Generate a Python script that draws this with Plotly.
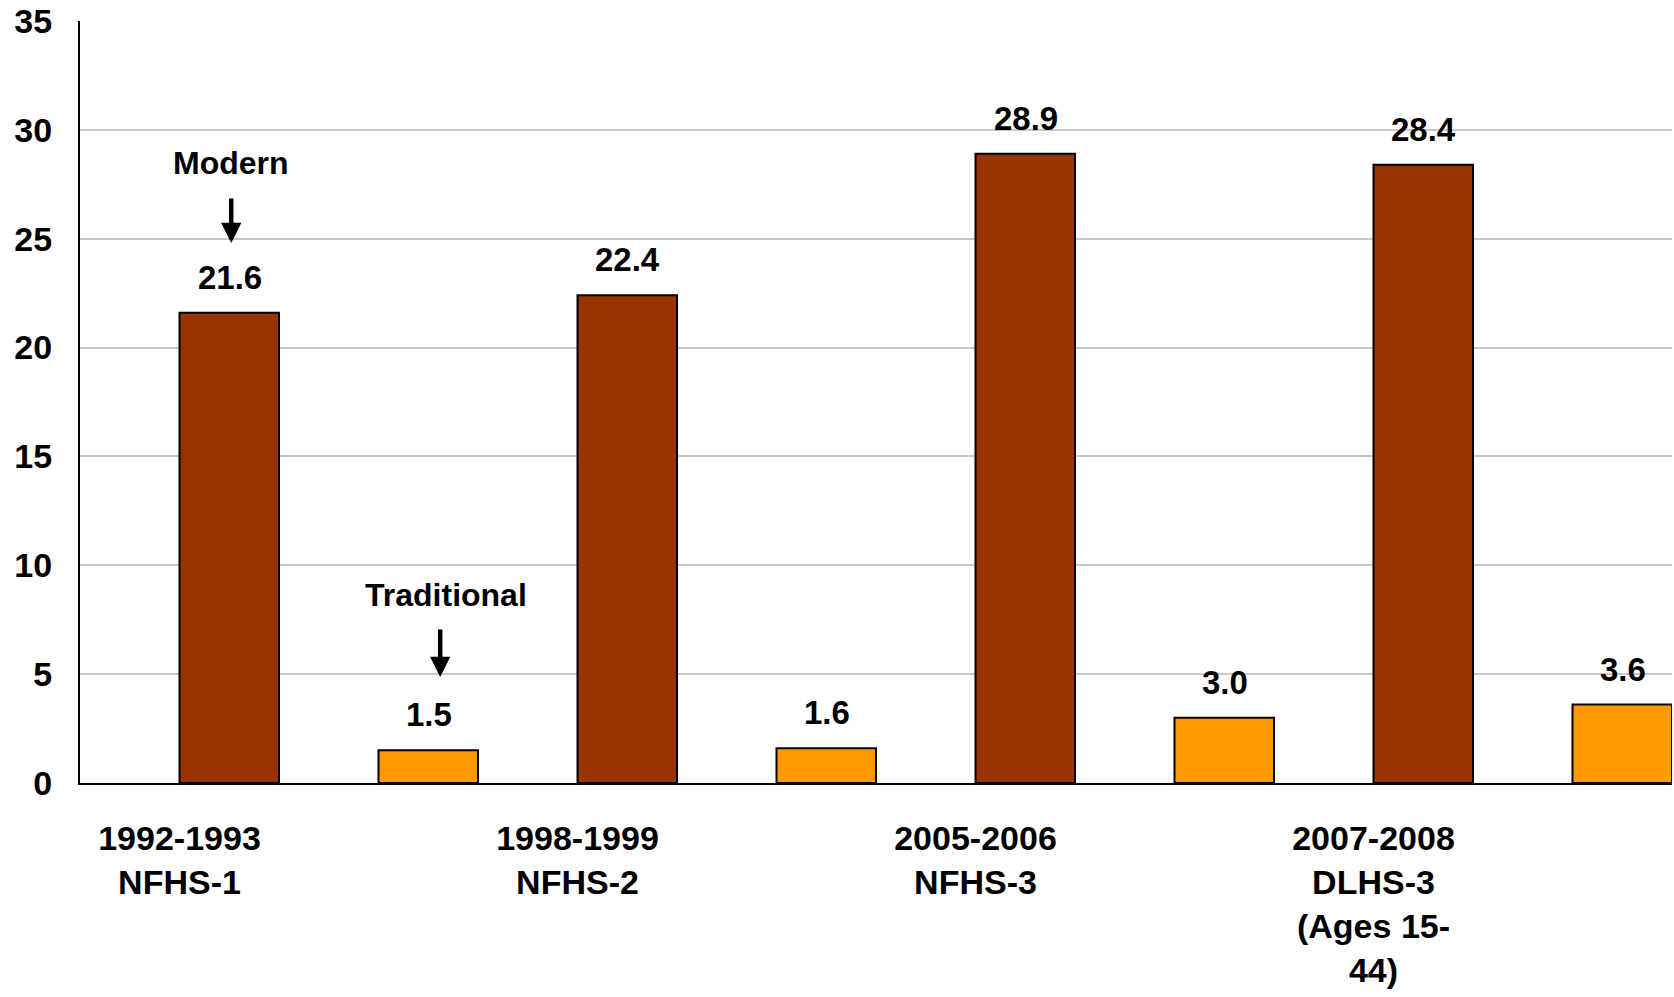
import plotly.graph_objects as go

surveys = ["1992-1993<br>NFHS-1", "1998-1999<br>NFHS-2", "2005-2006<br>NFHS-3",
           "2007-2008<br>DLHS-3<br>(Ages 15-<br>44)"]
modern = [21.6, 22.4, 28.9, 28.4]
traditional = [1.5, 1.6, 3.0, 3.6]
modern_slots = [f"s{i}_modern" for i in range(len(surveys))]
trad_slots = [f"s{i}_traditional" for i in range(len(surveys))]
slots = [s for pair in zip(modern_slots, trad_slots) for s in pair]

MODERN_COLOR = "#993300"
TRAD_COLOR = "#FF9900"
FONT = "Liberation Sans, Arial, sans-serif"

fig = go.Figure()
fig.add_trace(go.Bar(x=modern_slots, y=modern, name="Modern", offset=0, width=0.5,
                     marker=dict(color=MODERN_COLOR, line=dict(color="black", width=2)),
                     hoverinfo="y"))
fig.add_trace(go.Bar(x=trad_slots, y=traditional, name="Traditional", offset=0, width=0.5,
                     marker=dict(color=TRAD_COLOR, line=dict(color="black", width=2)),
                     hoverinfo="y"))

annotations = []
for xs, ys in ((modern_slots, modern), (trad_slots, traditional)):
    for x, y in zip(xs, ys):
        annotations.append(dict(x=x, y=y, xshift=50, yshift=15, text=f"{y:.1f}",
                                showarrow=False, yanchor="bottom",
                                font=dict(family=FONT, size=33, color="black", weight="bold")))

# "Modern" label with arrow
annotations.append(dict(x=0.26, y=28.5, xref="x", yref="y", text="Modern", showarrow=False,
                        font=dict(family=FONT, size=32, color="black", weight="bold")))
annotations.append(dict(x=0.26, y=24.8, ax=0, ay=-46, text="", showarrow=True,
                        arrowhead=2, arrowsize=0.9, arrowwidth=4.5, arrowcolor="black"))
# "Traditional" label with arrow
annotations.append(dict(x=1.34, y=8.64, xref="x", yref="y", text="Traditional", showarrow=False,
                        font=dict(family=FONT, size=32, color="black", weight="bold")))
annotations.append(dict(x=1.31, y=4.87, ax=0, ay=-49, text="", showarrow=True,
                        arrowhead=2, arrowsize=0.9, arrowwidth=4.5, arrowcolor="black"))

fig.update_layout(
    width=1674, height=997,
    margin=dict(l=80, r=2, t=21, b=214),
    plot_bgcolor="white", paper_bgcolor="white",
    barmode="overlay", showlegend=False,
    annotations=annotations,
    font=dict(family=FONT, size=34, color="black", weight="bold"),
)
fig.update_xaxes(type="category", categoryorder="array", categoryarray=slots,
                 tickmode="array", tickvals=modern_slots, ticktext=surveys,
                 range=[-0.5, len(slots) - 0.5],
                 showline=True, linecolor="black", linewidth=2, showgrid=False,
                 ticks="", ticklabelstandoff=24,
                 tickfont=dict(family=FONT, size=34, color="black", weight="bold"))
fig.update_yaxes(range=[0, 35], dtick=5, showline=True, linecolor="black", linewidth=2,
                 showgrid=True, gridcolor="#c8c8c8", gridwidth=2, zeroline=False,
                 ticks="", ticklabelstandoff=19,
                 tickfont=dict(family=FONT, size=34, color="black", weight="bold"))

fig.write_html(
    "out.html",
    config={"displayModeBar": False},
    post_script="document.body.style.margin='0';document.body.style.overflow='hidden';",
)
